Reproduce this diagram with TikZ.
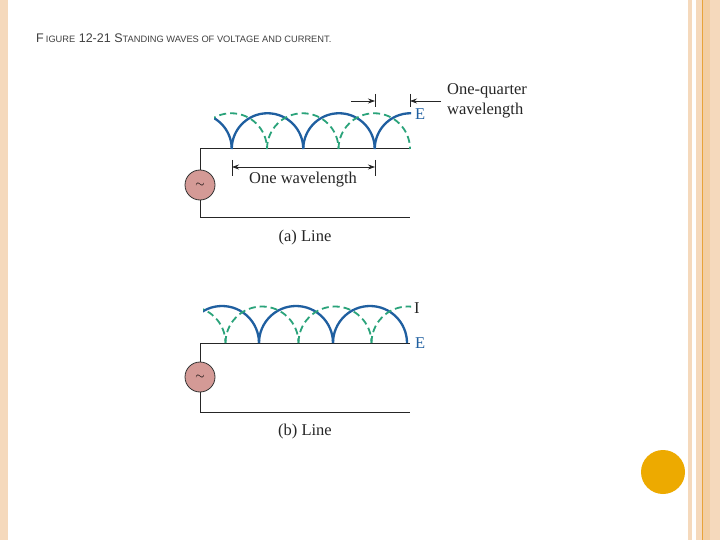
\documentclass[tikz,border=0pt]{standalone}
\usepackage{fontspec}
\setmainfont{Liberation Serif}
\newfontfamily\titlefont{Liberation Sans}
\usetikzlibrary{arrows.meta}
\definecolor{bl}{HTML}{1F5FA0}
\definecolor{gr}{HTML}{2AA37A}
\definecolor{beige}{HTML}{F5D9BC}
\definecolor{orng}{HTML}{E8A33A}
\definecolor{dot}{HTML}{EDAA00}
\definecolor{src}{HTML}{D49A96}
\begin{document}
\begin{tikzpicture}[x=1pt,y=-1pt,
  wire/.style={line width=1pt,black!85},
  bwave/.style={bl,line width=2.3pt},
  gwave/.style={gr,line width=1.8pt,dash pattern=on 7pt off 4pt},
  lbl/.style={font=\fontsize{16.5}{20}\selectfont,text=black!85,inner sep=0pt},
  dim/.style={line width=0.7pt,black!85},
  arr/.style={dim,-{Stealth[length=7pt,width=5pt]}}]
\useasboundingbox (0,0) rectangle (720,540);
\fill[white] (0,0) rectangle (720,540);
% borders
\fill[beige] (0,0) rectangle (8,540);
\fill[beige] (688,0) rectangle (692,540);
\fill[beige] (696,0) rectangle (720,540);
\fill[beige!80!orng] (703,0) rectangle (710,540);
\draw[orng,line width=0.8pt] (702,0) -- (702,540);
\fill[dot] (663,472) circle (22);
% title
\node[anchor=west,inner sep=0pt,text=black!75] (title) at (36,38)
 {\titlefont\fontsize{12.5}{13}\selectfont F\,{\fontsize{9.3}{10}\selectfont IGURE} 12-21 S{\fontsize{9.3}{10}\selectfont TANDING WAVES OF VOLTAGE AND CURRENT.}};
% ===== (a)
\coordinate (a1) at (200,149); \coordinate (a2) at (410,149);
\coordinate (a3) at (410,218); \coordinate (a4) at (200,218);
\node[circle,draw=black!80,fill=src,minimum size=30pt,inner sep=0pt,line width=0.8pt] (sa) at (200,185) {\fontsize{12}{12}\selectfont$\sim$};
\draw[wire] (sa.north) -- (a1) -- (a2);
\draw[wire] (sa.south) -- (a4) -- (a3);
\begin{scope}
\clip (214,90) rectangle (411,149.5);
\foreach \c in {196,267.5,339,410.5} \draw[bwave] (\c-35.75,149) arc[start angle=180,end angle=360,radius=35.75];
\foreach \c in {231.25,302.75,374.25} \draw[gwave] (\c-35.75,149) arc[start angle=180,end angle=360,radius=35.75];
\end{scope}
\coordinate (t1a) at (232,160); \coordinate (t1b) at (232,176);
\coordinate (t2a) at (375,160); \coordinate (t2b) at (375,176);
\draw[dim] (t1a) -- (t1b); \draw[dim] (t2a) -- (t2b);
\coordinate (wm) at (303,167);
\draw[arr] (wm) -- (232,167); \draw[arr] (wm) -- (375,167);
\node[lbl] (onew) at (303,180) {One wavelength};
\coordinate (q1a) at (375,94); \coordinate (q1b) at (375,107);
\coordinate (q2a) at (410,94); \coordinate (q2b) at (410,107);
\draw[dim] (q1a) -- (q1b); \draw[dim] (q2a) -- (q2b);
\coordinate (qs1) at (351,101); \coordinate (qs2) at (441,101);
\draw[arr] (qs1) -- (375,101); \draw[arr] (qs2) -- (410,101);
\node[lbl,anchor=west,align=left] (oq) at (447,101) {One-quarter\\wavelength};
\node[lbl,text=bl,anchor=west] (Ea) at (415,114) {E};
\node[lbl] (la) at (305,238) {(a) Line};
% ===== (b)
\coordinate (b1) at (200,343); \coordinate (b2) at (410,343);
\coordinate (b3) at (410,412); \coordinate (b4) at (200,412);
\node[circle,draw=black!80,fill=src,minimum size=30pt,inner sep=0pt,line width=0.8pt] (sb) at (200,377) {\fontsize{12}{12}\selectfont$\sim$};
\draw[wire] (sb.north) -- (b1) -- (b2);
\draw[wire] (sb.south) -- (b4) -- (b3);
\begin{scope}
\clip (203,290) rectangle (411,343.5);
\foreach \c in {222,296,370} \draw[bwave] (\c-37,343) arc[start angle=180,end angle=360,radius=37];
\foreach \c in {189,262,335,408} \draw[gwave] (\c-36.5,343) arc[start angle=180,end angle=360,radius=36.5];
\end{scope}
\node[lbl,anchor=west] (Ib) at (414,308) {I};
\node[lbl,text=bl,anchor=west] (Eb) at (415,343) {E};
\node[lbl] (lb) at (305,432) {(b) Line};
\end{tikzpicture}
\end{document}
